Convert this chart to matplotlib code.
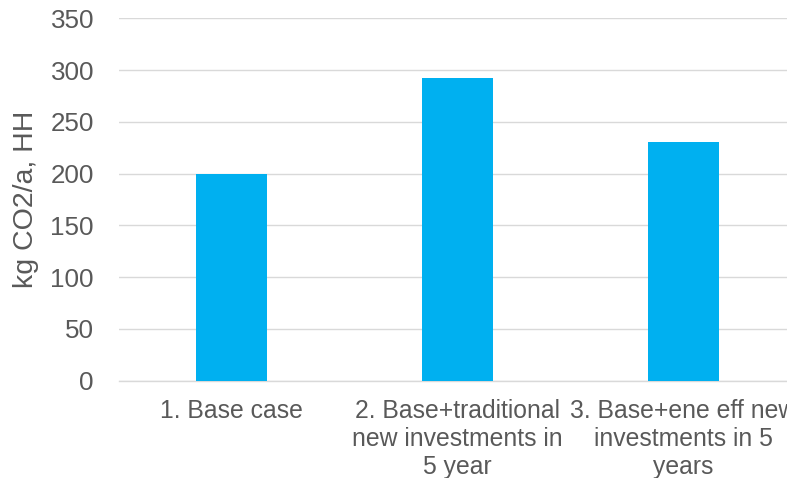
import matplotlib
matplotlib.use("Agg")
import matplotlib.pyplot as plt

categories = [
    "1. Base case",
    "2. Base+traditional\nnew investments in\n5 year",
    "3. Base+ene eff new\ninvestments in 5\nyears",
]
values = [200, 292, 230]
y_ticks = [0, 50, 100, 150, 200, 250, 300, 350]
y_label = "kg CO2/a, HH"

plt.rcParams["font.family"] = ["Liberation Sans", "DejaVu Sans"]

W, H = 787, 478
fig = plt.figure(figsize=(W / 100, H / 100), dpi=100)
left, right = 119 / W, 796 / W
bottom, top = (H - 380.5) / H, (H - 18.3) / H
ax = fig.add_axes([left, bottom, right - left, top - bottom])

x = list(range(len(categories)))
ax.bar(x, values, width=0.315, color="#00B0F0", zorder=3)

ax.set_xlim(-0.5, len(categories) - 0.5)
ax.set_ylim(0, 350)
ax.set_yticks(y_ticks)
ax.set_xticks(x)
ax.set_xticklabels(categories, fontsize=17.8, color="#595959", linespacing=1.22)
ax.tick_params(axis="y", labelsize=18.7, labelcolor="#595959", length=0, pad=18)
ax.tick_params(axis="x", length=0, pad=13)

ax.grid(axis="y", color="#d9d9d9", linewidth=1.0, zorder=0)
for side in ("left", "right", "top"):
    ax.spines[side].set_visible(False)
ax.spines["bottom"].set_color("#d9d9d9")
ax.spines["bottom"].set_linewidth(1.0)

ax.set_ylabel(y_label, fontsize=20.5, color="#595959", labelpad=8)

fig.savefig("out.png", dpi=100)
